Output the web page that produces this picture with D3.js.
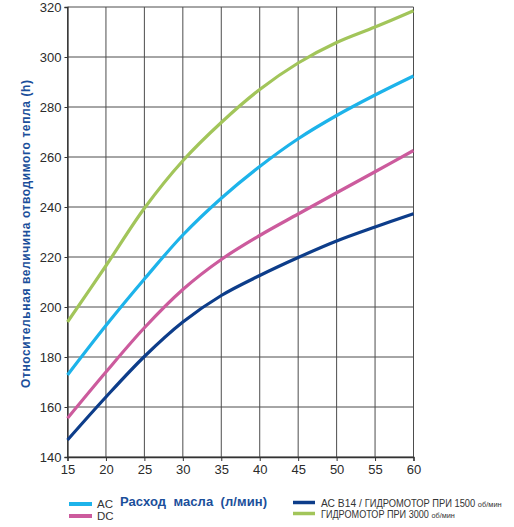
<!DOCTYPE html>
<html>
<head>
<meta charset="utf-8">
<script src="https://cdn.jsdelivr.net/npm/d3@7"></script>
<style>
  body { margin: 0; background: #fff; }
  svg { display: block; font-family: "Liberation Sans", Arial, sans-serif; }
</style>
</head>
<body>
<svg id="chart" width="514" height="527"></svg>
<script>
// flow rate, l/min
var flow = [15, 20, 25, 30, 35, 40, 45, 50, 55, 60];
var greenVals = [194, 216.5, 239.5, 258.5, 273.8, 287, 297.6, 305.8, 312, 318.5];
var acVals = [172.8, 192.6, 211.2, 228.8, 243.5, 256.2, 267.3, 276.6, 284.8, 292.4];
var dcVals = [155.5, 174, 191.7, 207, 219, 228.6, 237.2, 245.7, 254.1, 262.6];
var b14Vals = [146.8, 164, 180.2, 194, 204.6, 212.6, 219.8, 226.4, 232, 237.3];
var yTicks = [140, 160, 180, 200, 220, 240, 260, 280, 300, 320];

var svg = d3.select("#chart");

var x = d3.scaleLinear().domain([15, 60]).range([67.5, 413.5]);
var y = d3.scaleLinear().domain([140, 320]).range([457, 7]);

// grid
svg.append("g")
    .selectAll("line")
    .data(flow)
    .enter()
    .append("line")
    .attr("x1", d => x(d)).attr("x2", d => x(d))
    .attr("y1", y(140)).attr("y2", y(320))
    .attr("stroke", "#4d4d4d")
    .attr("stroke-width", 1);

svg.append("g")
    .selectAll("line")
    .data(yTicks)
    .enter()
    .append("line")
    .attr("x1", x(15)).attr("x2", x(60))
    .attr("y1", d => y(d)).attr("y2", d => y(d))
    .attr("stroke", "#4d4d4d")
    .attr("stroke-width", 1);

// axes
var yAxis = svg.append("g")
    .attr("transform", `translate(${x(15)},0)`)
    .call(d3.axisLeft(y).tickValues(yTicks).tickSize(3).tickPadding(3));
var xAxis = svg.append("g")
    .attr("transform", `translate(0,${y(140)})`)
    .call(d3.axisBottom(x).tickValues(flow).tickSize(4).tickPadding(4));

[yAxis, xAxis].forEach(function (ax) {
    ax.select(".domain").attr("stroke", "#333").attr("stroke-width", 1.3);
    ax.selectAll(".tick line").attr("stroke", "#333");
    ax.selectAll("text")
        .attr("fill", "#2b2b2b")
        .style("font-size", "13px")
        .style("font-family", "Liberation Sans, Arial, sans-serif");
});

// curves
var series = [
    {name: "green", vals: greenVals, color: "#a2c55a"},
    {name: "ac", vals: acVals, color: "#1db3ea"},
    {name: "dc", vals: dcVals, color: "#cc5b9d"},
    {name: "b14", vals: b14Vals, color: "#0d3d8a"}
];

var line = d3.line()
    .x((d, i) => x(flow[i]))
    .y(d => y(d))
    .curve(d3.curveCatmullRom.alpha(0.5));

svg.append("g")
    .selectAll("path")
    .data(series)
    .enter()
    .append("path")
    .attr("d", d => line(d.vals))
    .attr("fill", "none")
    .attr("stroke", d => d.color)
    .attr("stroke-width", 3.2)
    .attr("stroke-linecap", "butt");

// axis titles
svg.append("text")
    .attr("transform", "translate(30,234) rotate(-90)")
    .attr("text-anchor", "middle")
    .attr("fill", "#1b4f9b")
    .style("font-size", "12px")
    .style("font-weight", "bold")
    .attr("textLength", 308)
    .text("Относительная величина отводимого тепла (h)");

svg.append("text")
    .attr("x", 120)
    .attr("y", 506)
    .attr("fill", "#1b4f9b")
    .style("font-size", "13px")
    .style("font-weight", "bold")
    .attr("textLength", 147)
    .style("white-space", "pre")
    .text("Расход  масла  (л/мин)");

// legend
var legLeft = [
    {label: "AC", color: "#1db3ea", y: 504},
    {label: "DC", color: "#cc5b9d", y: 516}
];
var gl = svg.append("g");
gl.selectAll("line")
    .data(legLeft)
    .enter()
    .append("line")
    .attr("x1", 69).attr("x2", 92)
    .attr("y1", d => d.y).attr("y2", d => d.y)
    .attr("stroke", d => d.color)
    .attr("stroke-width", 4);
gl.selectAll("text")
    .data(legLeft)
    .enter()
    .append("text")
    .attr("x", 97)
    .attr("y", d => d.y + 4)
    .attr("fill", "#333")
    .style("font-size", "11.5px")
    .text(d => d.label);

var legRight = [
    {parts: ["АС В14 / ", "ГИДРОМОТОР ПРИ 1500 ", "об/мин"], color: "#0d3d8a", y: 502.5, len: 181},
    {parts: ["", "ГИДРОМОТОР ПРИ 3000 ", "об/мин"], color: "#a2c55a", y: 513.5, len: 134}
];
var gr = svg.append("g");
gr.selectAll("line")
    .data(legRight)
    .enter()
    .append("line")
    .attr("x1", 293).attr("x2", 315)
    .attr("y1", d => d.y).attr("y2", d => d.y)
    .attr("stroke", d => d.color)
    .attr("stroke-width", 3.5);
gr.selectAll("text")
    .data(legRight)
    .enter()
    .append("text")
    .attr("fill", "#333")
    .style("font-family", "Liberation Sans Narrow, Liberation Sans, Arial, sans-serif")
    .style("white-space", "pre")
    .each(function (d) {
        var t = d3.select(this);
        t.append("tspan").style("font-size", "11px").text(d.parts[0]);
        t.append("tspan").style("font-size", "10px").text(d.parts[1]);
        t.append("tspan").style("font-size", "8px").text(d.parts[2]);
        // squeeze to the width seen in the picture
        var w = this.getComputedTextLength();
        var sx = Math.min(1, d.len / w);
        t.attr("transform", `translate(321,${d.y + 4}) scale(${sx},1)`);
    });
</script>
</body>
</html>
